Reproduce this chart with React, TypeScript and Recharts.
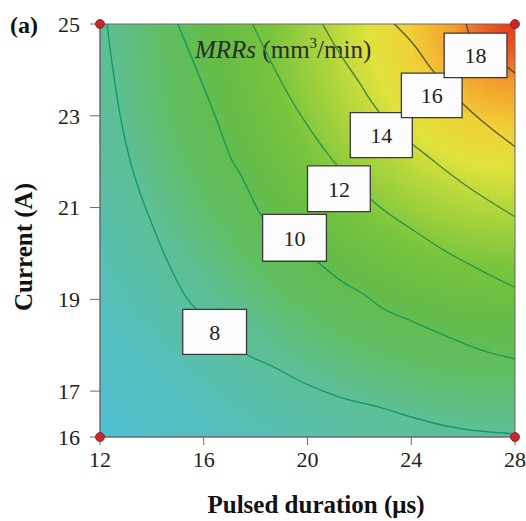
import React from 'react';
import { LineChart, Line, XAxis, YAxis, ReferenceArea, ReferenceDot } from 'recharts';

const serif = 'Liberation Serif, Times New Roman, serif';

// axis ticks
const xTicks = [12, 16, 20, 24, 28];
const yTicks = [16, 17, 19, 21, 23, 25];

// contour lines (pulsed duration, current)
const contour8 = [
  { x: 12.27, y: 25 }, { x: 12.5, y: 24.0 }, { x: 12.81, y: 22.91 }, { x: 13.15, y: 22.04 },
  { x: 13.54, y: 21.33 }, { x: 14.04, y: 20.59 }, { x: 14.69, y: 19.72 }, { x: 15.38, y: 19.0 },
  { x: 15.73, y: 18.78 }, { x: 17.65, y: 17.8 }, { x: 18.65, y: 17.54 }, { x: 19.96, y: 17.15 },
  { x: 21.23, y: 16.87 }, { x: 22.77, y: 16.65 }, { x: 24.04, y: 16.43 }, { x: 25.35, y: 16.24 },
  { x: 26.62, y: 16.13 }, { x: 28, y: 16.07 },
];
const contour10 = [
  { x: 15.0, y: 25 }, { x: 15.73, y: 24.0 }, { x: 16.5, y: 22.91 }, { x: 17.08, y: 22.04 },
  { x: 17.38, y: 21.76 }, { x: 18.15, y: 20.89 }, { x: 20.35, y: 19.83 }, { x: 21.23, y: 19.43 },
  { x: 22.27, y: 19.07 }, { x: 22.77, y: 18.85 }, { x: 24.04, y: 18.52 }, { x: 25.35, y: 18.2 },
  { x: 26.62, y: 17.91 }, { x: 28, y: 17.7 },
];
const contour12 = [
  { x: 17.88, y: 25 }, { x: 18.42, y: 24.37 }, { x: 19.31, y: 23.41 }, { x: 20.19, y: 22.63 },
  { x: 20.96, y: 22.04 }, { x: 22.77, y: 21.02 }, { x: 24.04, y: 20.52 }, { x: 25.35, y: 20.04 },
  { x: 26.62, y: 19.65 }, { x: 28, y: 19.26 },
];
const contour14 = [
  { x: 20.58, y: 25 }, { x: 21.23, y: 24.37 }, { x: 22.0, y: 23.72 }, { x: 22.5, y: 23.28 },
  { x: 24.81, y: 22.04 }, { x: 25.96, y: 21.54 }, { x: 28, y: 20.8 },
];
const contour16 = [
  { x: 23.35, y: 25 }, { x: 24.04, y: 24.59 }, { x: 24.81, y: 24.0 }, { x: 25.96, y: 23.28 },
  { x: 27.0, y: 22.76 }, { x: 28, y: 22.33 },
];
const contour18 = [
  { x: 26.12, y: 25 }, { x: 26.23, y: 24.8 }, { x: 27.69, y: 24.07 }, { x: 28, y: 23.93 },
];

const contours = [
  { level: 8, data: contour8, color: '#14996c' },
  { level: 10, data: contour10, color: '#18995a' },
  { level: 12, data: contour12, color: '#2a9846' },
  { level: 14, data: contour14, color: '#4a863a' },
  { level: 16, data: contour16, color: '#5a5a32' },
  { level: 18, data: contour18, color: '#5a482e' },
];

// label boxes on the contours
const labelBoxes = [
  { level: '8', x1: 15.19, x2: 17.65, y1: 17.8, y2: 18.78 },
  { level: '10', x1: 18.27, x2: 20.73, y1: 19.83, y2: 20.85 },
  { level: '12', x1: 20.0, x2: 22.42, y1: 20.91, y2: 21.91 },
  { level: '14', x1: 21.65, x2: 24.04, y1: 22.09, y2: 23.07 },
  { level: '16', x1: 23.62, x2: 25.96, y1: 22.96, y2: 23.93 },
  { level: '18', x1: 25.27, x2: 27.69, y1: 23.83, y2: 24.8 },
];

const corners = [
  { x: 12, y: 16 }, { x: 12, y: 25 }, { x: 28, y: 16 }, { x: 28, y: 25 },
];

const PlotTitle = ({ viewBox }: any) => {
  const { x, y } = viewBox;
  return (
    <g>
      <text x={x + 95} y={y + 34} fontSize={25} fontFamily={serif} fill="#2a2a2a">
        <tspan fontStyle="italic">MRRs</tspan>
        <tspan> (mm</tspan>
        <tspan fontSize={15} dy={-10}>3</tspan>
        <tspan dy={10}>/min)</tspan>
      </text>
      <text x={x - 90} y={y + 9} fontSize={24} fontFamily={serif} fontWeight="bold" fill="#111">(a)</text>
    </g>
  );
};

const XTitle = () => (
  <text x={316} y={513} textAnchor="middle" fontFamily={serif} fontSize={25} fontWeight="bold" fill="#111">
    Pulsed duration (μs)
  </text>
);

const YTitle = () => (
  <text x={23} y={247} transform="rotate(-90 23 247)" textAnchor="middle" dominantBaseline="central"
    fontFamily={serif} fontSize={25} fontWeight="bold" fill="#111">
    Current (A)
  </text>
);

export default function App() {
  const tickStyle = { fill: '#222', fontSize: 22, fontFamily: serif };
  return (
    <div style={{ position: 'absolute', left: 0, top: 0, background: '#fff' }}>
      <LineChart width={526} height={521} margin={{ top: 24, right: 11, bottom: 24, left: 40 }}>
        <defs>
          <radialGradient id="mrrField" cx="1" cy="0" r="1.41" fx="1" fy="0">
            <stop offset="0" stopColor="#e8361c" />
            <stop offset="0.05" stopColor="#ee5c22" />
            <stop offset="0.1" stopColor="#f39a2c" />
            <stop offset="0.18" stopColor="#f0d036" />
            <stop offset="0.25" stopColor="#dfe23c" />
            <stop offset="0.32" stopColor="#b2d63c" />
            <stop offset="0.42" stopColor="#78c43e" />
            <stop offset="0.5" stopColor="#66bc46" />
            <stop offset="0.6" stopColor="#60bd62" />
            <stop offset="0.7" stopColor="#5dbf96" />
            <stop offset="0.85" stopColor="#55bfbc" />
            <stop offset="1" stopColor="#50bfd4" />
          </radialGradient>
        </defs>
        <XAxis
          type="number"
          dataKey="x"
          domain={[12, 28]}
          ticks={xTicks}
          allowDataOverflow
          interval={0}
          height={60}
          tickSize={8}
          tickMargin={6}
          stroke="#6b6b6b"
          tick={tickStyle}
          label={XTitle}
        />
        <YAxis
          type="number"
          dataKey="y"
          domain={[16, 25]}
          ticks={yTicks}
          allowDataOverflow
          interval={0}
          width={60}
          tickSize={10}
          tickMargin={10}
          stroke="#6b6b6b"
          tick={tickStyle}
          label={YTitle}
        />
        <ReferenceArea
          x1={12}
          x2={28}
          y1={16}
          y2={25}
          fill="url(#mrrField)"
          fillOpacity={1}
          stroke="#6b6b6b"
          strokeWidth={1}
          zIndex={-200}
          label={PlotTitle}
        />
        {contours.map((c) => (
          <Line
            key={c.level}
            data={c.data}
            dataKey="y"
            type="monotone"
            stroke={c.color}
            strokeWidth={1.4}
            dot={false}
            activeDot={false}
            isAnimationActive={false}
          />
        ))}
        {labelBoxes.map((b) => (
          <ReferenceArea
            key={b.level}
            x1={b.x1}
            x2={b.x2}
            y1={b.y1}
            y2={b.y2}
            fill="#fcfcfc"
            fillOpacity={1}
            stroke="#3a3a3a"
            strokeWidth={1.3}
            zIndex={1500}
            label={{ value: b.level, position: 'center', fill: '#222', fontSize: 22, fontFamily: serif }}
          />
        ))}
        {corners.map((p, i) => (
          <ReferenceDot key={i} x={p.x} y={p.y} r={4.5} fill="#c4282a" stroke="#8a1a1a" strokeWidth={0.8} zIndex={1600} />
        ))}
      </LineChart>
    </div>
  );
}
